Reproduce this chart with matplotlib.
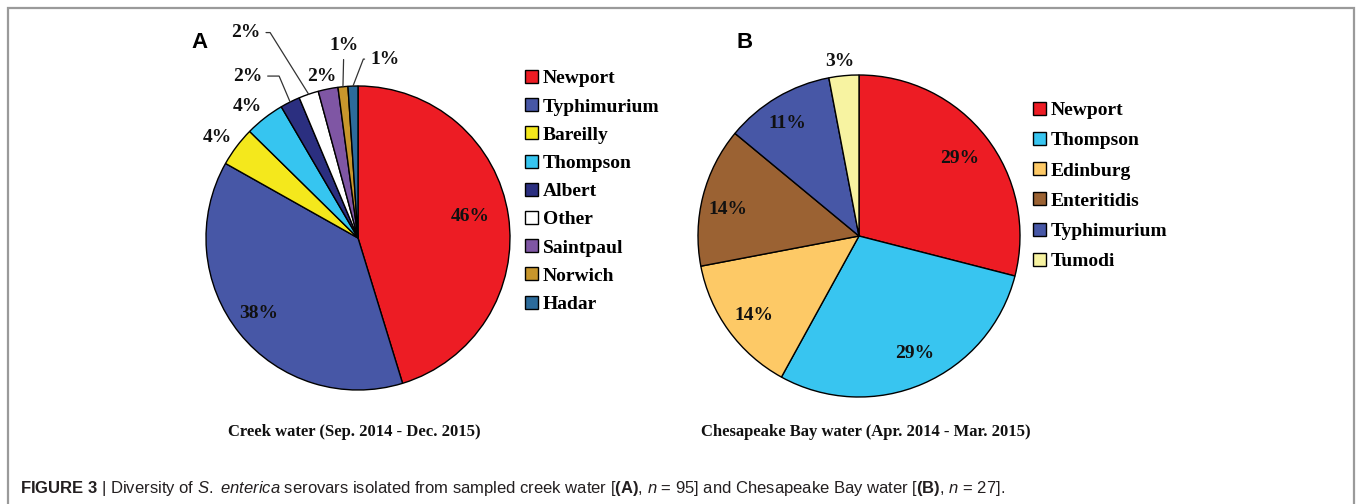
import numpy as np
import matplotlib
matplotlib.use("Agg")
import matplotlib.pyplot as plt
from matplotlib.patches import Rectangle
from matplotlib import font_manager

# ---------------- data ----------------
creek_labels = ["Newport", "Typhimurium", "Bareilly", "Thompson", "Albert",
                "Other", "Saintpaul", "Norwich", "Hadar"]
creek_counts = [43, 36, 4, 4, 2, 2, 2, 1, 1]          # isolates, n = 95 (wedge sizes)
creek_pct_text = ["46%", "38%", "4%", "4%", "2%", "2%", "2%", "1%", "1%"]

bay_labels = ["Newport", "Thompson", "Edinburg", "Enteritidis", "Typhimurium", "Tumodi"]
bay_pct = [29, 29, 14, 14, 11, 3]
bay_pct_text = ["29%", "29%", "14%", "14%", "11%", "3%"]

title_a = "Creek water (Sep. 2014 - Dec. 2015)"
title_b = "Chesapeake Bay water (Apr. 2014 - Mar. 2015)"

# ---------------- styles ----------------
creek_colors = ["#ED1C24", "#4757A6", "#F4E81C", "#36C5F0", "#2B2F80",
                "#FFFFFF", "#7F56A4", "#C8962C", "#2C6B9B"]
bay_colors = ["#ED1C24", "#38C5F0", "#FDC966", "#9B6233", "#4757A6", "#F7F3A1"]

# label layout: (radial distance, angular nudge in degrees, leader style)
creek_layout = [(0.75, 2.6, None), (0.82, -1.7, None), (1.14, 1.3, None), (1.13, 2.4, None),
                (1.29, 7.8, 113), (1.54, 9.7, 122), (1.09, 1.1, None),
                (1.27, -1.5, "straight"), (1.19, -10.4, 69)]
bay_layout = [(0.79, 0, None), (0.81, 2, None), (0.82, 1, None), (0.83, 3, None),
              (0.83, 2, None), (1.09, 1, None)]

W, H = 1356, 504
SERIF = "Liberation Serif"
names = {f.name for f in font_manager.fontManager.ttflist}
CAPFONT = "Liberation Sans Narrow" if "Liberation Sans Narrow" in names else "Liberation Sans"

plt.rcParams["font.family"] = [SERIF, "DejaVu Serif"]
plt.rcParams["mathtext.fontset"] = "custom"
plt.rcParams["mathtext.rm"] = CAPFONT
plt.rcParams["mathtext.it"] = CAPFONT + ":italic"
plt.rcParams["mathtext.bf"] = CAPFONT + ":bold"

fig = plt.figure(figsize=(W / 100, H / 100), dpi=100)


def px_axes(cx, cy, r):
    return fig.add_axes([(cx - r) / W, (H - cy - r) / H, 2 * r / W, 2 * r / H])


def draw_pie(ax, vals, texts, colors, layout):
    wedges, _ = ax.pie(vals, colors=colors, startangle=90, counterclock=False,
                       wedgeprops=dict(edgecolor="black", linewidth=1.0))
    ax.set_xlim(-1, 1)
    ax.set_ylim(-1, 1)
    ax.set_aspect("equal")
    ax.axis("off")
    for w, txt, (rd, nudge, leader) in zip(wedges, texts, layout):
        mid = np.deg2rad((w.theta1 + w.theta2) / 2)
        ang = mid + np.deg2rad(nudge)
        tx, ty = rd * np.cos(ang), rd * np.sin(ang)
        kw = dict(ha="center", va="center", fontsize=14, fontweight="bold",
                  color="#111111", annotation_clip=False)
        if leader is None:
            ax.annotate(txt, xy=(tx, ty), **kw)
        else:
            ex, ey = np.cos(mid), np.sin(mid)
            if leader == "straight":
                cs = "arc3,rad=0"
            else:
                cs = f"angle,angleA=0,angleB={leader},rad=0"
            ax.annotate(txt, xy=(ex, ey), xytext=(tx, ty),
                        arrowprops=dict(arrowstyle="-", color="#333333", lw=0.9,
                                        shrinkA=2, shrinkB=0, connectionstyle=cs),
                        **kw)
    return wedges


# ---------------- pie A ----------------
axA = px_axes(358, 238, 152)
wA = draw_pie(axA, creek_counts, creek_pct_text, creek_colors, creek_layout)

# ---------------- pie B ----------------
axB = px_axes(859, 236, 161)
wB = draw_pie(axB, bay_pct, bay_pct_text, bay_colors, bay_layout)

legprops = dict(family=SERIF, weight="bold", size=14)
fig.legend(wA, creek_labels, loc="upper left", bbox_to_anchor=(525 / W, 1 - 70 / H),
           frameon=False, prop=legprops, handlelength=0.65, handleheight=0.65,
           handletextpad=0.25, labelspacing=0.56, borderpad=0, borderaxespad=0)
fig.legend(wB, bay_labels, loc="upper left", bbox_to_anchor=(1033 / W, 1 - 102 / H),
           frameon=False, prop=legprops, handlelength=0.65, handleheight=0.65,
           handletextpad=0.25, labelspacing=0.66, borderpad=0, borderaxespad=0)

# panel letters
fig.text(200 / W, 1 - 42 / H, "A", family="Liberation Sans", weight="bold",
         fontsize=16, ha="center", va="center")
fig.text(745 / W, 1 - 42 / H, "B", family="Liberation Sans", weight="bold",
         fontsize=16, ha="center", va="center")

# panel titles
fig.text(354 / W, 1 - 432 / H, title_a, fontsize=12, fontweight="bold",
         ha="center", va="center", color="#111111")
fig.text(866 / W, 1 - 432 / H, title_b, fontsize=12, fontweight="bold",
         ha="center", va="center", color="#111111")

# caption
caption = (r"$\mathbf{FIGURE\ 3}$ | Diversity of $\mathit{S.\ enterica}$ serovars isolated "
           r"from sampled creek water [$\mathbf{(A)}$, $\mathit{n}$ = 95] and Chesapeake Bay "
           r"water [$\mathbf{(B)}$, $\mathit{n}$ = 27].")
fig.text(20 / W, 1 - 488 / H, caption, family=CAPFONT, fontsize=12,
         ha="left", va="center", color="#231F20")

# frame
fig.patches.append(Rectangle((8 / W, -0.2), (1354 - 8) / W, 1.2 - 8 / H,
                             transform=fig.transFigure, fill=False,
                             edgecolor="#9A9A9A", linewidth=1.6, clip_on=False))

fig.savefig("out.png", dpi=100, facecolor="white")
